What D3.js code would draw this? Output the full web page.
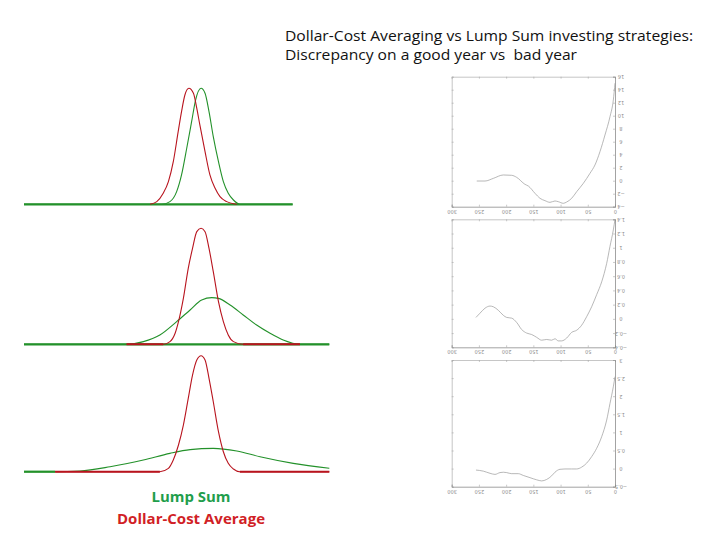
<!DOCTYPE html>
<html>
<head>
<meta charset="utf-8">
<script src="https://cdn.jsdelivr.net/npm/d3@7"></script>
<style>
  body { margin: 0; background: #fff; }
  svg { display: block; }
</style>
</head>
<body>
<div id="chart"></div>
<script>
// left side: distribution of outcomes, [position, relative density]
const goodYearLump = [[0, 0], [45.1, 0], [47.8, 0.023], [50.0, 0.109], [51.6, 0.253], [53.3, 0.483], [54.9, 0.712], [56.2, 0.899], [58.0, 1.0], [59.3, 0.957], [60.6, 0.799], [62.0, 0.583], [63.7, 0.367], [65.3, 0.195], [66.9, 0.095], [68.6, 0.037], [70.7, 0], [88, 0]]
const goodYearDca = [[41.3, 0], [43.5, 0.023], [45.6, 0.095], [47.3, 0.195], [48.9, 0.367], [50.5, 0.626], [51.6, 0.799], [52.7, 0.942], [54.0, 1.0], [55.5, 0.957], [56.6, 0.827], [57.6, 0.684], [59.3, 0.454], [60.9, 0.253], [62.6, 0.138], [64.2, 0.066], [66.4, 0.023], [69.7, 0]]

const midYearLump = [[0, 0], [33.6, 0], [39.1, 0.023], [44.5, 0.08], [50.0, 0.195], [54.4, 0.296], [58.2, 0.382], [61.5, 0.402], [63.7, 0.396], [67.5, 0.339], [71.8, 0.253], [76.2, 0.166], [80.6, 0.095], [84.9, 0.037], [90.4, 0], [100, 0]]
const midYearDca = [[33.6, 0], [45.6, 0], [47.8, 0.023], [49.5, 0.095], [50.6, 0.195], [52.2, 0.396], [53.8, 0.655], [55.2, 0.827], [56.6, 0.971], [58.0, 1.0], [59.3, 0.971], [60.6, 0.827], [62.0, 0.626], [63.7, 0.367], [65.3, 0.195], [66.9, 0.08], [68.6, 0.023], [71.8, 0], [90.4, 0]]

const badYearLump = [[0, 0], [10.2, 0], [18.3, 0.006], [28.2, 0.043], [39.1, 0.101], [47.8, 0.158], [54.4, 0.19], [62.0, 0.201], [69.7, 0.178], [77.3, 0.129], [88.2, 0.072], [100, 0.029]]
const badYearDca = [[10.2, 0], [44.5, 0], [47.3, 0.029], [48.9, 0.101], [50.6, 0.23], [52.2, 0.402], [53.8, 0.632], [55.2, 0.833], [56.6, 0.963], [58.0, 1.0], [59.3, 0.963], [60.6, 0.805], [62.0, 0.603], [63.7, 0.345], [65.3, 0.172], [66.9, 0.072], [68.6, 0.023], [70.7, 0], [100, 0]]

// right side: discrepancy against days
const discrepancyGood = [[254, -0.05], [238.8, -0.05], [223.5, 0.36], [205.2, 0.88], [189.9, 0.83], [180.7, 0.52], [165.4, -0.56], [159.2, -0.82], [147, -1.94], [137.8, -2.71], [128.6, -3.07], [119.4, -3.33], [110.3, -3.12], [104.1, -3.23], [95, -3.48], [88.8, -3.28], [79.6, -2.71], [70.4, -1.69], [58.2, -0.41], [46, 1.13], [36.8, 2.42], [27.6, 4.47], [18.4, 7.03], [9.2, 9.85], [3.1, 12.4], [0, 15.0]]
const discrepancyMid = [[255.4, 0.02], [248, 0.08], [238.8, 0.15], [229.6, 0.18], [223.5, 0.17], [214.3, 0.12], [205.2, 0.05], [199, 0.02], [189.8, 0.01], [180.7, -0.05], [171.5, -0.15], [162.3, -0.2], [153.1, -0.22], [143.9, -0.26], [134.7, -0.3], [125.6, -0.29], [116.4, -0.3], [110.2, -0.28], [104.1, -0.31], [98, -0.31], [88.8, -0.27], [79.6, -0.19], [70.4, -0.16], [61.3, -0.09], [52.1, 0.03], [42.9, 0.17], [33.7, 0.34], [24.5, 0.52], [15.3, 0.78], [9.2, 1.02], [3.1, 1.25], [0, 1.4]]
const discrepancyBad = [[255.4, -0.04], [241.9, -0.07], [229.6, -0.13], [220.5, -0.16], [211.3, -0.11], [205.2, -0.1], [199, -0.11], [189.9, -0.14], [177.6, -0.14], [168.4, -0.19], [156.2, -0.25], [143.9, -0.31], [134.7, -0.34], [125.6, -0.3], [116.4, -0.2], [110.3, -0.1], [101.1, -0.02], [91.9, -0.01], [79.6, -0.01], [70.4, -0.01], [61.3, 0.04], [52.1, 0.15], [42.9, 0.33], [33.7, 0.56], [24.5, 0.88], [15.3, 1.34], [9.2, 1.8], [3.1, 2.26], [0, 2.54]]

const dayTicks = [300, 250, 200, 150, 100, 50, 0]
const goodTicks = [-4, -2, 0, 2, 4, 6, 8, 10, 12, 14, 16]
const midTicks = [-0.4, -0.2, 0, 0.2, 0.4, 0.6, 0.8, 1, 1.2, 1.4]
const badTicks = [-0.5, 0, 0.5, 1, 1.5, 2, 2.5, 3]

const titleLines = ['Dollar-Cost Averaging vs Lump Sum investing strategies:', 'Discrepancy on a good year vs  bad year']
const legendLabels = ['Lump Sum', 'Dollar-Cost Average']

const width = 728
const height = 546
const red = '#b8141e'
const green = '#23912a'
const axisGrey = '#a8a8a8'

const svg = d3.select('#chart')
  .append('svg')
  .attr('width', width)
  .attr('height', height)

// title
svg.append('g')
  .selectAll('text')
  .data(titleLines)
  .join('text')
  .attr('x', 285)
  .attr('y', (d, i) => 40.5 + i * 19)
  .attr('textLength', (d, i) => i === 0 ? 408 : 292)
  .attr('lengthAdjust', 'spacingAndGlyphs')
  .style('font-family', "'Open Sans', sans-serif")
  .style('font-size', '14px')
  .style('white-space', 'pre')
  .attr('fill', '#111')
  .text(d => d)

// left: distributions
const xDist = d3.scaleLinear().domain([0, 100]).range([24, 329.3])
const yDist = d3.scaleLinear().domain([0, 1]).range([0, -116])

const distLine = d3.line()
  .x(d => xDist(d[0]))
  .y(d => yDist(d[1]))
  .curve(d3.curveMonotoneX)

const distPanels = [
  { base: 204.3, lump: goodYearLump, dca: goodYearDca },
  { base: 344.3, lump: midYearLump, dca: midYearDca },
  { base: 471.7, lump: badYearLump, dca: badYearDca }
]

distPanels.forEach(p => {
  const g = svg.append('g').attr('transform', `translate(0, ${p.base})`)

  // heavier baseline where the curves sit on zero
  const flatLump = p.lump.filter(d => d[1] === 0)
  const flatDca = p.dca.filter(d => d[1] === 0)

  g.append('path')
    .attr('d', distLine(p.lump))
    .attr('fill', 'none')
    .attr('stroke', green)
    .attr('stroke-width', 1.1)

  g.append('line')
    .attr('x1', xDist(0))
    .attr('x2', xDist(d3.max(flatLump, d => d[0])))
    .attr('y1', yDist(0))
    .attr('y2', yDist(0))
    .attr('stroke', green)
    .attr('stroke-width', 2.2)

  g.append('path')
    .attr('d', distLine(p.dca))
    .attr('fill', 'none')
    .attr('stroke', red)
    .attr('stroke-width', 1.1)

  // red baseline pieces either side of the peak
  const peakAt = p.dca.find(d => d[1] === 1)[0]
  const leftFlat = flatDca.filter(d => d[0] < peakAt)
  const rightFlat = flatDca.filter(d => d[0] > peakAt)
  ;[leftFlat, rightFlat].forEach(seg => {
    if (seg.length < 2) return
    g.append('line')
      .attr('x1', xDist(seg[0][0]))
      .attr('x2', xDist(seg[seg.length - 1][0]))
      .attr('y1', yDist(0))
      .attr('y2', yDist(0))
      .attr('stroke', red)
      .attr('stroke-width', 2)
  })
})

// legend
svg.append('g')
  .selectAll('text')
  .data(legendLabels)
  .join('text')
  .attr('x', 191)
  .attr('y', (d, i) => 502 + i * 22)
  .attr('text-anchor', 'middle')
  .attr('textLength', (d, i) => i === 0 ? 79 : 148)
  .attr('lengthAdjust', 'spacingAndGlyphs')
  .style('font-family', "'Open Sans', sans-serif")
  .style('font-size', '15px')
  .style('font-weight', 'bold')
  .attr('fill', (d, i) => i === 0 ? '#1f9e4c' : '#d11f26')
  .text(d => d)

// right: discrepancy panels
const xDays = d3.scaleLinear().domain([300, 0]).range([451.7, 615])

const rightPanels = [
  { top: 76.7, bottom: 206.7, ticks: goodTicks, data: discrepancyGood },
  { top: 219.3, bottom: 347.3, ticks: midTicks, data: discrepancyMid },
  { top: 360, bottom: 486.7, ticks: badTicks, data: discrepancyBad }
]

// labels in the source graphic are printed upside down
const flipLabels = (sel, cx, cy) => {
  sel.selectAll('text')
    .attr('x', cx)
    .attr('y', cy)
    .attr('dy', null)
    .attr('text-anchor', 'middle')
    .attr('dominant-baseline', 'central')
    .attr('transform', `rotate(180, ${cx}, ${cy})`)
    .attr('fill', '#8a8a8a')
    .style('font-family', "'DejaVu Sans', sans-serif")
    .style('font-size', '5px')
}

rightPanels.forEach(p => {
  const y = d3.scaleLinear()
    .domain(d3.extent(p.ticks))
    .range([p.bottom, p.top])

  const g = svg.append('g')

  const xTop = g.append('g')
    .attr('transform', `translate(0, ${p.top})`)
    .call(d3.axisTop(xDays).tickValues(dayTicks).tickSize(-2).tickFormat(''))
  const yLeft = g.append('g')
    .attr('transform', `translate(${xDays(300)}, 0)`)
    .call(d3.axisLeft(y).tickValues(p.ticks).tickSize(-2).tickFormat(''))

  const xBottom = g.append('g')
    .attr('transform', `translate(0, ${p.bottom})`)
    .call(d3.axisBottom(xDays).tickValues(dayTicks).tickSize(-2).tickPadding(4))
  flipLabels(xBottom, 0, 5)

  const yRight = g.append('g')
    .attr('transform', `translate(${xDays(0)}, 0)`)
    .call(d3.axisRight(y).tickValues(p.ticks).tickSize(-2).tickFormat(d3.format('')))
  flipLabels(yRight, 6, 0)

  ;[xTop, yLeft, xBottom, yRight].forEach(a => {
    a.select('.domain').attr('stroke', '#b8b8b8').attr('stroke-width', 0.8)
    a.selectAll('.tick line').attr('stroke', axisGrey).attr('stroke-width', 0.6)
  })
  xBottom.select('.domain').attr('stroke', '#8c8c8c')
  yRight.select('.domain').attr('stroke', '#8c8c8c')

  g.append('path')
    .datum(p.data)
    .attr('d', d3.line()
      .x(d => xDays(d[0]))
      .y(d => y(d[1]))
      .curve(d3.curveMonotoneX))
    .attr('fill', 'none')
    .attr('stroke', '#9a9a9a')
    .attr('stroke-width', 0.7)
})
</script>
</body>
</html>
